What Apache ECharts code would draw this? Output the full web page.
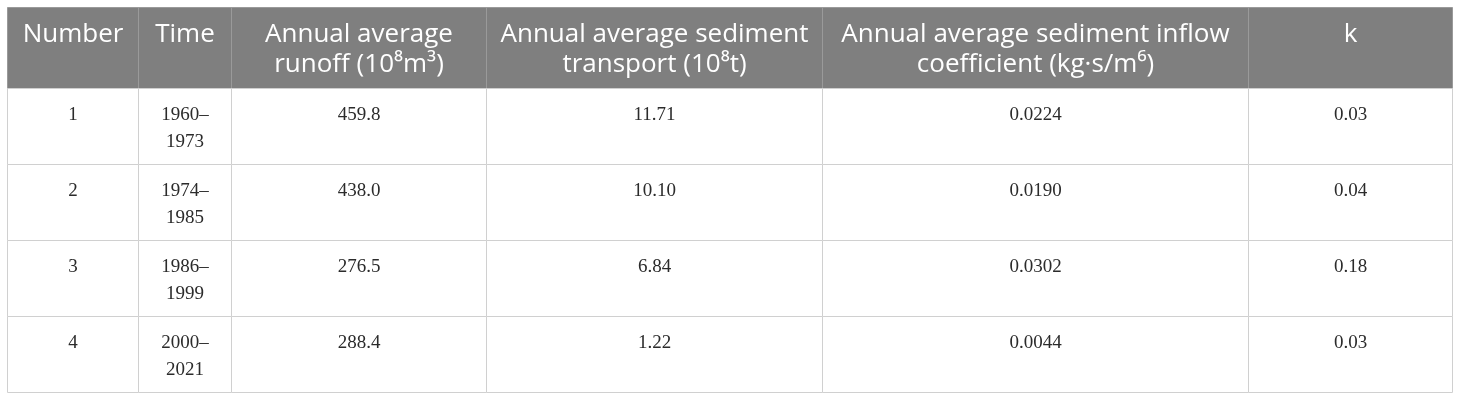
<!DOCTYPE html>
<html>
<head>
<meta charset="utf-8">
<script src="https://cdn.jsdelivr.net/npm/echarts@6/dist/echarts.min.js"></script>
<style>
  html, body { margin: 0; padding: 0; background: #fff; }
  #main { width: 1460px; height: 400px; }
</style>
</head>
<body>
<div id="main"></div>
<script>
var headers = ['Number', 'Time', 'Annual average\nrunoff (10⁸m³)', 'Annual average sediment\ntransport (10⁸t)',
  'Annual average sediment inflow\ncoefficient (kg·s/m⁶)', 'k'];
var numbers = ['1', '2', '3', '4'];
var times = ['1960–\n1973', '1974–\n1985', '1986–\n1999', '2000–\n2021'];
var runoff = [459.8, 438.0, 276.5, 288.4];
var transport = [11.71, 10.10, 6.84, 1.22];
var inflowCoef = [0.0224, 0.0190, 0.0302, 0.0044];
var kValues = [0.03, 0.04, 0.18, 0.03];

// layout: column and row edges in table units (px from the table corner)
var colEdges = [0, 131, 224, 479, 815, 1241, 1445];
var rowEdges = [0, 81, 157, 233, 309, 385];

(function(){
  var chart = echarts.init(document.getElementById('main'));

  var rows = [headers];
  for (var i = 0; i < numbers.length; i++) {
    rows.push([
      numbers[i],
      times[i],
      runoff[i].toFixed(1),
      transport[i].toFixed(2),
      inflowCoef[i].toFixed(4),
      kValues[i].toFixed(2)
    ]);
  }

  var cells = [];
  rows.forEach(function (r, ri) {
    r.forEach(function (txt, ci) {
      cells.push([ci, ri, txt]);
    });
  });

  function renderCell(params, api) {
    var ci = api.value(0), ri = api.value(1);
    var txt = cells[params.dataIndex][2];
    var p0 = api.coord([colEdges[ci], rowEdges[ri]]);
    var p1 = api.coord([colEdges[ci + 1], rowEdges[ri + 1]]);
    var x = Math.round(p0[0]) + 0.5, y = Math.round(p0[1]) + 0.5;
    var w = Math.round(p1[0]) - Math.round(p0[0]);
    var h = Math.round(p1[1]) - Math.round(p0[1]);
    var isHead = ri === 0;
    return {
      type: 'group',
      children: [
        {
          type: 'rect',
          shape: { x: x, y: y, width: w, height: h },
          style: {
            fill: isHead ? '#7f7f7f' : '#fff',
            stroke: isHead ? '#9a9a9a' : '#d0d0d0',
            lineWidth: 1
          }
        },
        {
          type: 'text',
          x: x + w / 2,
          y: y + (isHead ? 12 : 13),
          style: {
            text: txt,
            align: 'center',
            verticalAlign: 'top',
            fill: isHead ? '#fff' : '#2b2b2b',
            fontFamily: isHead ? '"Open Sans", "DejaVu Sans", sans-serif' : '"Liberation Serif", "DejaVu Serif", serif',
            fontSize: isHead ? 26 : 19,
            lineHeight: isHead ? 30 : 27
          }
        }
      ]
    };
  }

  var option = {
    animation: false,
    grid: { left: 7, right: 8, top: 7, bottom: 8 },
    xAxis: { type: 'value', min: 0, max: colEdges[colEdges.length - 1], show: false },
    yAxis: { type: 'value', min: 0, max: rowEdges[rowEdges.length - 1], inverse: true, show: false },
    series: [{
      type: 'custom',
      renderItem: renderCell,
      data: cells.map(function (c) { return [c[0], c[1]]; }),
      silent: true
    }]
  };

  chart.setOption(option);
})()
</script>
</body>
</html>
